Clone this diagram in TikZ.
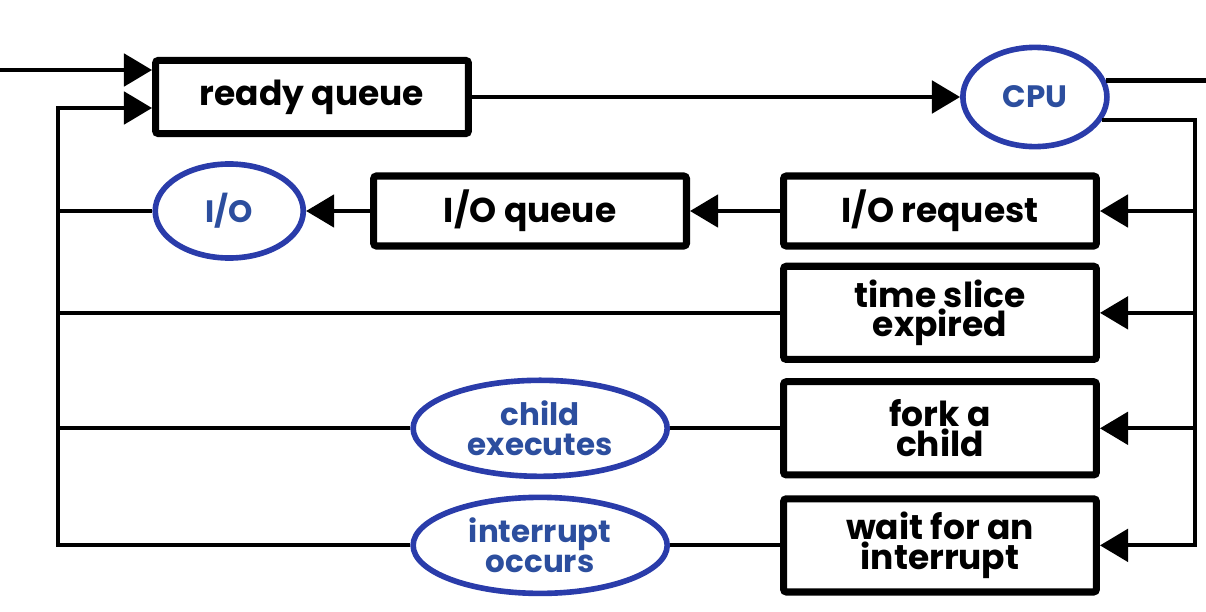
\documentclass[tikz,border=0pt]{standalone}
\usepackage{fontspec}
\setmainfont{Poppins}
\usepackage{tikz}
\usetikzlibrary{shapes.geometric, arrows.meta, positioning}
\definecolor{ovalblue}{RGB}{42,60,170}
\definecolor{ovaltext}{RGB}{44,78,158}
\tikzset{
  qbox/.style={
    rectangle, draw=black, line width=5pt,
    minimum width=7.82cm, minimum height=#1,
    rounded corners=2pt, align=center, inner sep=0pt,
    font=\fontsize{24.5}{21}\selectfont\bfseries
  },
  qbox/.default=1.75cm,
  oval/.style={
    ellipse, draw=ovalblue, line width=4pt, text=ovaltext,
    minimum width=#1, minimum height=2.4cm, inner sep=0pt,
    align=center, font=\fontsize{22}{21}\selectfont\bfseries
  },
  oval/.default=3.7cm,
  wire/.style={line width=3pt},
  arr/.style={line width=3pt, -{Triangle[length=20pt,width=23pt]}}
}
\begin{document}
\begin{tikzpicture}[x=0.025cm, y=-0.025cm, node distance=0pt]
  \useasboundingbox (0,0) rectangle (1206,612);

  \node[qbox=1.83cm] (rq) at (312,97) {ready queue};
  \node[oval=3.6cm, minimum height=2.48cm, right=12.2cm of rq] (cpu) {CPU};

  \node[qbox] (iorq) at (940,211) {I/O request};
  \node[qbox, left=2.25cm of iorq] (ioq) {I/O queue};
  \node[oval, minimum height=2.35cm, left=1.6cm of ioq] (io) {I/O};

  \node[qbox=2.33cm, below=0.33cm of iorq]   (tslice) {time slice\\expired};
  \node[qbox=2.33cm, below=0.38cm of tslice] (fork)   {fork a\\child};
  \node[qbox=2.33cm, below=0.42cm of fork]   (wait)   {wait for an\\interrupt};

  \node[oval=6.35cm, left=2.75cm of fork] (child) {child\\executes};
  \node[oval=6.35cm, left=2.75cm of wait] (intr)  {interrupt\\occurs};

  \coordinate (inL)  at (0,70);
  \coordinate (outR) at (1206,80);
  \coordinate (lbus) at (58,108);
  \coordinate (rbus) at (1195,0);

  \draw[arr] (inL) -- (inL -| rq.west);
  \draw[arr] (rq) -- (cpu);
  \draw[wire] (cpu.13) -- (cpu.13 -| outR);

  \draw[arr] (cpu.-19) -| (rbus |- wait) -- (wait);
  \draw[arr] (rbus |- iorq)   -- (iorq);
  \draw[arr] (rbus |- tslice) -- (tslice);
  \draw[arr] (rbus |- fork)   -- (fork);

  \draw[arr] (iorq) -- (ioq);
  \draw[arr] (ioq)  -- (io);
  \draw[wire] (fork) -- (child);
  \draw[wire] (wait) -- (intr);

  \draw[arr] (intr) -- (intr -| lbus) -- (lbus) -- (lbus -| rq.west);
  \draw[wire] (io)     -- (io -| lbus);
  \draw[wire] (tslice) -- (tslice -| lbus);
  \draw[wire] (child)  -- (child -| lbus);

\end{tikzpicture}
\end{document}
